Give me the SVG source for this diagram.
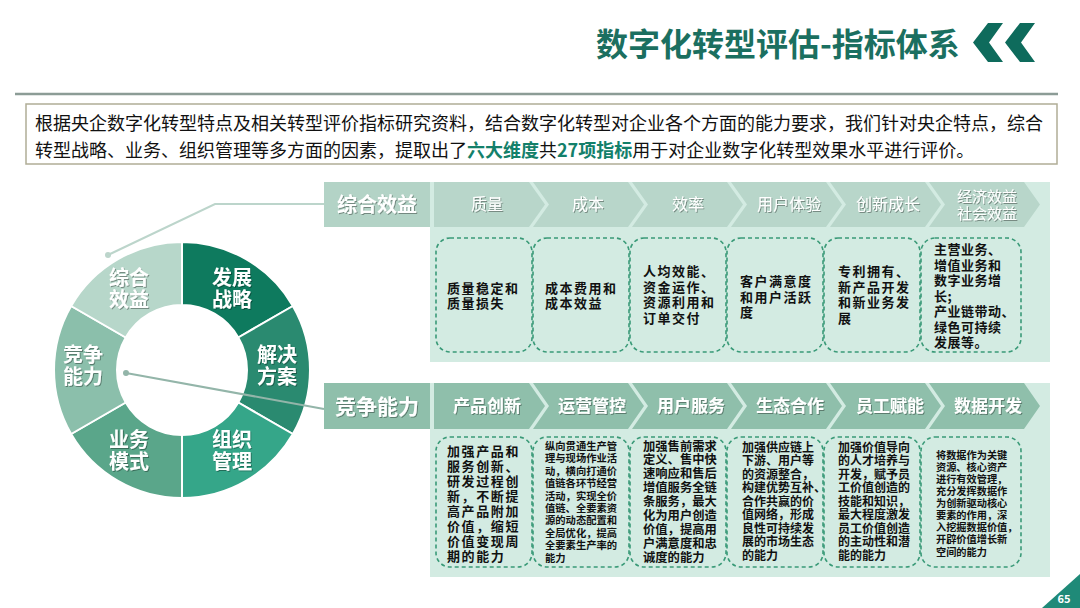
<svg xmlns="http://www.w3.org/2000/svg" width="1080" height="608" viewBox="0 0 1080 608">
<defs>
<filter id="sh" x="-10%" y="-20%" width="130%" height="150%"><feDropShadow dx="1" dy="1" stdDeviation="0.6" flood-color="#000" flood-opacity="0.35"/></filter>
<style>
text{font-family:"Noto Sans CJK SC","Noto Sans",sans-serif;}
.title{font-size:32px;font-weight:bold;fill:#1b6f60;}
.intro{font-size:18px;fill:#111;}
.hl{font-weight:bold;fill:#13806a;}
.seg{stroke:#fff;stroke-width:2;}
.seglbl{font-size:20px;font-weight:bold;fill:#fff;text-anchor:middle;filter:url(#sh);}
.rowlbl{font-size:20px;font-weight:bold;fill:#fff;text-anchor:middle;filter:url(#sh);}
.chv1{fill:#b8d6ca;}
.chv2{fill:#8fbfab;}
.chvt1{font-size:16px;fill:#fff;text-anchor:middle;filter:url(#sh);}
.chvt2{font-size:17px;font-weight:bold;fill:#fff;text-anchor:middle;filter:url(#sh);}
.panel{fill:#d3ebe2;}
.dbox{fill:none;stroke:#3a9a78;stroke-width:1.6;stroke-dasharray:4 3;}
.bt{font-weight:bold;fill:#111;}
.conn1{fill:none;stroke:#bcd5cb;stroke-width:2;}
.conn2{fill:none;stroke:#93b5a9;stroke-width:2;}
</style>
</defs>
<rect width="1080" height="608" fill="#fff"/>

<!-- header -->
<g id="header">
<text class="title" x="596" y="56">数字化转型评估-指标体系</text>
<polygon points="988,23 1003,23 989,42.5 1003,62 988,62 973,42.5" fill="#0e6b5c"/>
<polygon points="1020,23 1035,23 1021,42.5 1035,62 1020,62 1005,42.5" fill="#0e6b5c"/>
<line x1="15" y1="94" x2="1058" y2="94" stroke="#8c9c96" stroke-width="2.5"/>
</g>

<g id="intro">
<rect x="26" y="104" width="1031" height="60" fill="#fff" stroke="#b0ad96" stroke-width="1.5"/>
<text class="intro" x="35" y="130">根据央企数字化转型特点及相关转型评价指标研究资料，结合数字化转型对企业各个方面的能力要求，我们针对央企特点，综合</text>
<text class="intro" x="35" y="157">转型战略、业务、组织管理等多方面的因素，提取出了<tspan class="hl">六大维度</tspan>共<tspan class="hl">27项指标</tspan>用于对企业数字化转型效果水平进行评价。</text>
</g>

<!-- donut -->
<g id="donut">
<g id="seg-fzzl"><path class="seg" fill="#0e7a5e" d="M182,242 A128,128 0 0 1 292.85,306 L238.29,337.5 A65,65 0 0 0 182,305 Z"/>
<text class="seglbl" x="232" y="285">发展</text><text class="seglbl" x="232" y="307">战略</text></g>
<g id="seg-jjfa"><path class="seg" fill="#2a8a70" d="M292.85,306 A128,128 0 0 1 292.85,434 L238.29,402.5 A65,65 0 0 0 238.29,337.5 Z"/>
<text class="seglbl" x="277" y="362">解决</text><text class="seglbl" x="277" y="384">方案</text></g>
<g id="seg-zzgl"><path class="seg" fill="#35a689" d="M292.85,434 A128,128 0 0 1 182,498 L182,435 A65,65 0 0 0 238.29,402.5 Z"/>
<text class="seglbl" x="232" y="447">组织</text><text class="seglbl" x="232" y="469">管理</text></g>
<g id="seg-ywms"><path class="seg" fill="#5aa68a" d="M182,498 A128,128 0 0 1 71.15,434 L125.71,402.5 A65,65 0 0 0 182,435 Z"/>
<text class="seglbl" x="129" y="447">业务</text><text class="seglbl" x="129" y="469">模式</text></g>
<g id="seg-jznl"><path class="seg" fill="#8bbfab" d="M71.15,434 A128,128 0 0 1 71.15,306 L125.71,337.5 A65,65 0 0 0 125.71,402.5 Z"/>
<text class="seglbl" x="83" y="362">竞争</text><text class="seglbl" x="83" y="384">能力</text></g>
<g id="seg-zhxy"><path class="seg" fill="#b7d7ca" d="M71.15,306 A128,128 0 0 1 182,242 L182,305 A65,65 0 0 0 125.71,337.5 Z"/>
<text class="seglbl" x="129" y="285">综合</text><text class="seglbl" x="129" y="307">效益</text></g>
</g>

<!-- connectors -->
<g id="connectors">
<polyline class="conn1" points="108,255 215,204 324,204"/>
<circle cx="108" cy="255" r="3" fill="#bcd5cb"/>
<line class="conn2" x1="126" y1="373" x2="324" y2="409"/>
<circle cx="126" cy="373" r="3" fill="#93b5a9"/>
</g>

<!-- row 1 -->
<g id="row1">
<rect class="panel" x="430" y="182" width="620" height="180"/>
<rect x="324" y="182" width="106" height="45" fill="#b3d3c6"/>
<text class="rowlbl" x="377" y="212">综合效益</text>
<polygon class="chv1" points="434,182 529,182 545,204.5 529,227 434,227"/>
<polygon class="chv1" points="533,182 628,182 644,204.5 628,227 533,227 549,204.5"/>
<polygon class="chv1" points="632,182 727,182 743,204.5 727,227 632,227 648,204.5"/>
<polygon class="chv1" points="731,182 826,182 842,204.5 826,227 731,227 747,204.5"/>
<polygon class="chv1" points="830,182 925,182 941,204.5 925,227 830,227 846,204.5"/>
<polygon class="chv1" points="929,182 1024,182 1040,204.5 1024,227 929,227 945,204.5"/>
<text class="chvt1" x="487" y="210">质量</text>
<text class="chvt1" x="588" y="210">成本</text>
<text class="chvt1" x="688" y="210">效率</text>
<text class="chvt1" x="789" y="210">用户体验</text>
<text class="chvt1" x="888" y="210">创新成长</text>
<text class="chvt1" x="987" y="202" style="font-size:15px">经济效益</text>
<text class="chvt1" x="987" y="219" style="font-size:15px">社会效益</text>
</g>

<g id="row1-boxes" style="font-size:13px;letter-spacing:1.5px">
<g id="b1-1"><rect class="dbox" x="436" y="238" width="96" height="114" rx="14"/>
<text class="bt" x="447" y="293"><tspan x="447">质量稳定和</tspan><tspan x="447" dy="15">质量损失</tspan></text></g>
<g id="b1-2"><rect class="dbox" x="533" y="238" width="96" height="114" rx="14"/>
<text class="bt" x="545" y="293"><tspan x="545">成本费用和</tspan><tspan x="545" dy="15">成本效益</tspan></text></g>
<g id="b1-3"><rect class="dbox" x="630" y="238" width="96" height="114" rx="14"/>
<text class="bt" x="643" y="276"><tspan x="643">人均效能、</tspan><tspan x="643" dy="15.5">资金运作、</tspan><tspan x="643" dy="15.5">资源利用和</tspan><tspan x="643" dy="15.5">订单交付</tspan></text></g>
<g id="b1-4"><rect class="dbox" x="727" y="238" width="96" height="114" rx="14"/>
<text class="bt" x="740" y="286"><tspan x="740">客户满意度</tspan><tspan x="740" dy="15.5">和用户活跃</tspan><tspan x="740" dy="15.5">度</tspan></text></g>
<g id="b1-5"><rect class="dbox" x="824" y="238" width="96" height="114" rx="14"/>
<text class="bt" x="838" y="276"><tspan x="838">专利拥有、</tspan><tspan x="838" dy="15.5">新产品开发</tspan><tspan x="838" dy="15.5">和新业务发</tspan><tspan x="838" dy="15.5">展</tspan></text></g>
<g id="b1-6"><rect class="dbox" x="921" y="238" width="100" height="114" rx="14"/>
<text class="bt" x="934" y="254" style="letter-spacing:0.5px"><tspan x="934">主营业务、</tspan><tspan x="934" dy="15.5">增值业务和</tspan><tspan x="934" dy="15.5">数字业务增</tspan><tspan x="934" dy="15.5">长;</tspan><tspan x="934" dy="15.5">产业链带动、</tspan><tspan x="934" dy="15.5">绿色可持续</tspan><tspan x="934" dy="15.5">发展等。</tspan></text></g>
</g>

<!-- row 2 -->
<g id="row2">
<rect class="panel" x="430" y="383" width="620" height="194"/>
<rect x="324" y="383" width="106" height="46" fill="#8fbfab"/>
<text class="rowlbl" x="377" y="414" style="font-size:21px">竞争能力</text>
<polygon class="chv2" points="434,383 529,383 545,406 529,429 434,429"/>
<polygon class="chv2" points="533,383 628,383 644,406 628,429 533,429 549,406"/>
<polygon class="chv2" points="632,383 727,383 743,406 727,429 632,429 648,406"/>
<polygon class="chv2" points="731,383 826,383 842,406 826,429 731,429 747,406"/>
<polygon class="chv2" points="830,383 925,383 941,406 925,429 830,429 846,406"/>
<polygon class="chv2" points="929,383 1024,383 1040,406 1024,429 929,429 945,406"/>
<text class="chvt2" x="487" y="412">产品创新</text>
<text class="chvt2" x="592" y="412">运营管控</text>
<text class="chvt2" x="691" y="412">用户服务</text>
<text class="chvt2" x="790" y="412">生态合作</text>
<text class="chvt2" x="890" y="412">员工赋能</text>
<text class="chvt2" x="988" y="412">数据开发</text>
</g>

<g id="row2-boxes">
<g id="b2-1"><rect class="dbox" x="436" y="437" width="96" height="130" rx="14"/>
<text class="bt" style="font-size:13px;letter-spacing:1.6px" x="447" y="456"><tspan x="447">加强产品和</tspan><tspan x="447" dy="15">服务创新、</tspan><tspan x="447" dy="15">研发过程创</tspan><tspan x="447" dy="15">新，不断提</tspan><tspan x="447" dy="15">高产品附加</tspan><tspan x="447" dy="15">价值，缩短</tspan><tspan x="447" dy="15">价值变现周</tspan><tspan x="447" dy="15">期的能力</tspan></text></g>
<g id="b2-2"><rect class="dbox" x="533" y="437" width="96" height="130" rx="14"/>
<text class="bt" style="font-size:10.3px" x="545" y="450"><tspan x="545">纵向贯通生产管</tspan><tspan x="545" dy="12.4">理与现场作业活</tspan><tspan x="545" dy="12.4">动，横向打通价</tspan><tspan x="545" dy="12.4">值链各环节经营</tspan><tspan x="545" dy="12.4">活动，实现全价</tspan><tspan x="545" dy="12.4">值链、全要素资</tspan><tspan x="545" dy="12.4">源的动态配置和</tspan><tspan x="545" dy="12.4">全局优化，提高</tspan><tspan x="545" dy="12.4">全要素生产率的</tspan><tspan x="545" dy="12.4">能力</tspan></text></g>
<g id="b2-3"><rect class="dbox" x="630" y="437" width="96" height="130" rx="14"/>
<text class="bt" style="font-size:12.3px" x="643" y="450.5"><tspan x="643">加强售前需求</tspan><tspan x="643" dy="13.9">定义、售中快</tspan><tspan x="643" dy="13.9">速响应和售后</tspan><tspan x="643" dy="13.9">增值服务全链</tspan><tspan x="643" dy="13.9">条服务，最大</tspan><tspan x="643" dy="13.9">化为用户创造</tspan><tspan x="643" dy="13.9">价值，提高用</tspan><tspan x="643" dy="13.9">户满意度和忠</tspan><tspan x="643" dy="13.9">诚度的能力</tspan></text></g>
<g id="b2-4"><rect class="dbox" x="727" y="437" width="96" height="130" rx="14"/>
<text class="bt" style="font-size:12px" x="742" y="451.5"><tspan x="742">加强供应链上</tspan><tspan x="742" dy="13.5">下游、用户等</tspan><tspan x="742" dy="13.5">的资源整合，</tspan><tspan x="742" dy="13.5">构建优势互补、</tspan><tspan x="742" dy="13.5">合作共赢的价</tspan><tspan x="742" dy="13.5">值网络，形成</tspan><tspan x="742" dy="13.5">良性可持续发</tspan><tspan x="742" dy="13.5">展的市场生态</tspan><tspan x="742" dy="13.5">的能力</tspan></text></g>
<g id="b2-5"><rect class="dbox" x="824" y="437" width="96" height="130" rx="14"/>
<text class="bt" style="font-size:12px" x="838" y="451.5"><tspan x="838">加强价值导向</tspan><tspan x="838" dy="13.5">的人才培养与</tspan><tspan x="838" dy="13.5">开发，赋予员</tspan><tspan x="838" dy="13.5">工价值创造的</tspan><tspan x="838" dy="13.5">技能和知识，</tspan><tspan x="838" dy="13.5">最大程度激发</tspan><tspan x="838" dy="13.5">员工价值创造</tspan><tspan x="838" dy="13.5">的主动性和潜</tspan><tspan x="838" dy="13.5">能的能力</tspan></text></g>
<g id="b2-6"><rect class="dbox" x="921" y="437" width="100" height="130" rx="14"/>
<text class="bt" style="font-size:10.2px" x="936" y="458.7"><tspan x="936">将数据作为关键</tspan><tspan x="936" dy="12.1">资源、核心资产</tspan><tspan x="936" dy="12.1">进行有效管理，</tspan><tspan x="936" dy="12.1">充分发挥数据作</tspan><tspan x="936" dy="12.1">为创新驱动核心</tspan><tspan x="936" dy="12.1">要素的作用，深</tspan><tspan x="936" dy="12.1">入挖掘数据价值，</tspan><tspan x="936" dy="12.1">开辟价值增长新</tspan><tspan x="936" dy="12.1">空间的能力</tspan></text></g>
</g>

<g id="pagenum">
<polygon points="1042,608 1080,608 1080,574" fill="#1f8a78"/>
<text x="1064" y="603" style="font-size:11px;font-weight:bold;fill:#fff;text-anchor:middle">65</text>
</g>
</svg>
